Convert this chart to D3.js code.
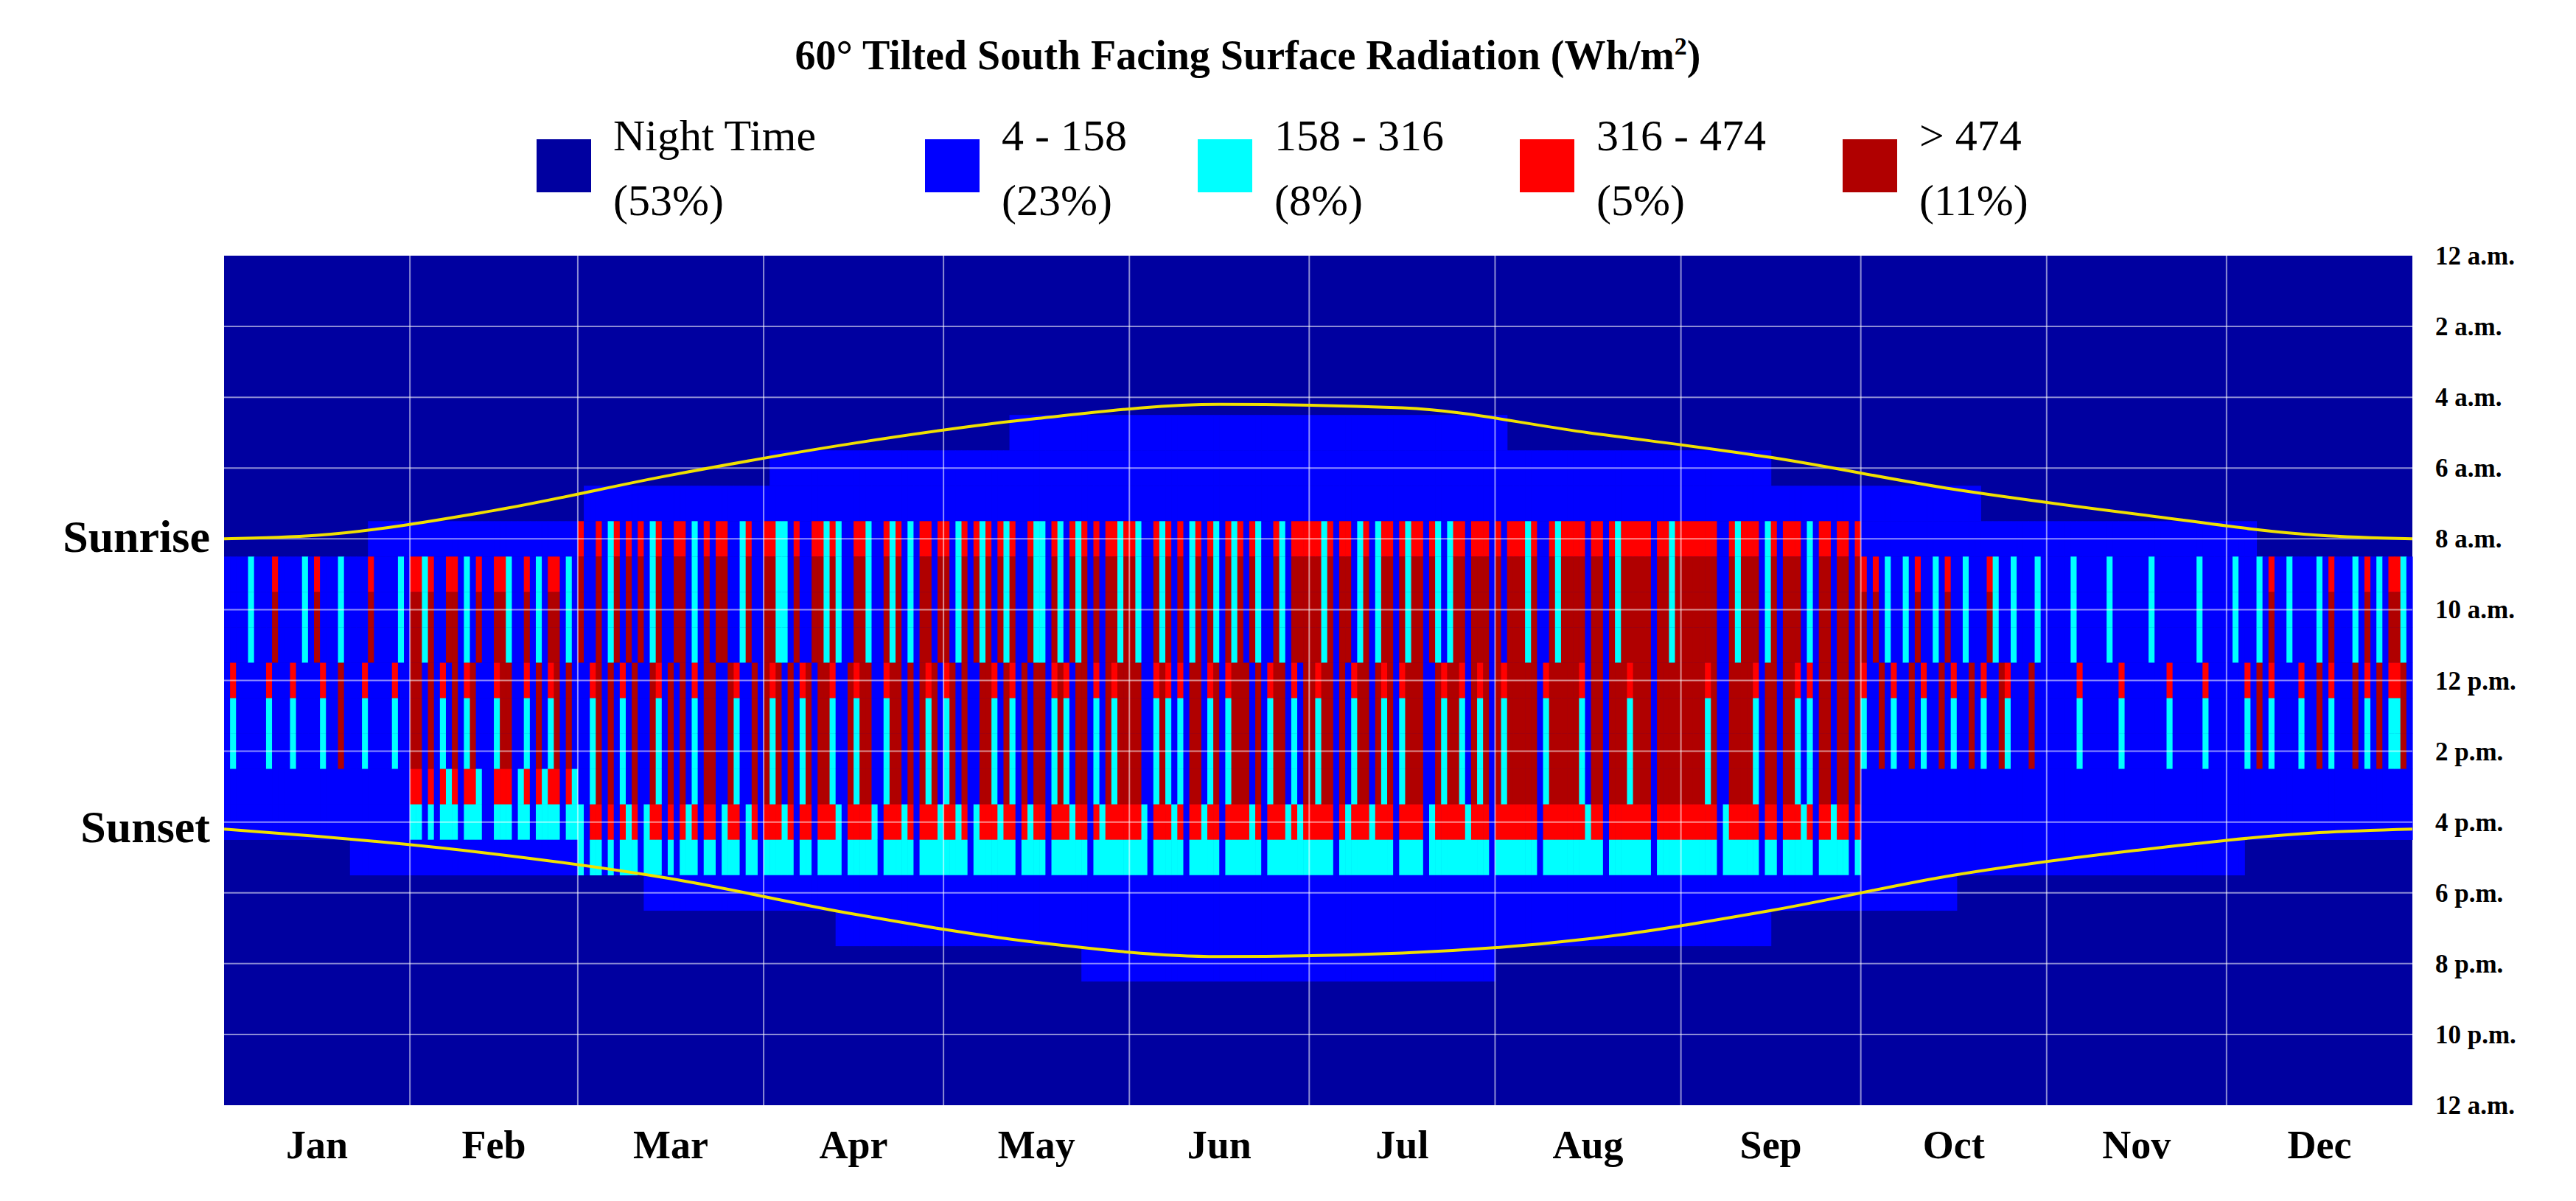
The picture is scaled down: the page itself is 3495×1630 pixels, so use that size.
<!DOCTYPE html>
<html>
<head>
<meta charset="UTF-8">
<script src="https://d3js.org/d3.v7.min.js"></script>
<style>
  body { margin: 0; background: #fff; }
  text { font-family: "Liberation Serif", "DejaVu Serif", serif; fill: #000; }
</style>
</head>
<body>
<svg width="3495" height="1630"></svg>
<script>
// categories
const months = ["Jan","Feb","Mar","Apr","May","Jun","Jul","Aug","Sep","Oct","Nov","Dec"];
const monthDays = [31,28,31,30,31,30,31,31,30,31,30,31];
const classNames = ["Night Time","4 - 158","158 - 316","316 - 474","> 474"];
const classShares = ["(53%)","(23%)","(8%)","(5%)","(11%)"];
const classColors = ["#0000a0","#0000ff","#00ffff","#ff0000","#b00000"];
const hourTicks = ["12 a.m.","2 a.m.","4 a.m.","6 a.m.","8 a.m.","10 a.m.","12 p.m.","2 p.m.","4 p.m.","6 p.m.","8 p.m.","10 p.m.","12 a.m."];

// sunrise / sunset (hours) at mid-month
const sunriseMid = [7.9, 7.2, 6.2, 5.3, 4.6, 4.2, 4.3, 5.0, 5.7, 6.6, 7.3, 7.9];
const sunsetMid  = [16.4, 16.9, 17.6, 18.6, 19.4, 19.8, 19.7, 19.3, 18.5, 17.5, 16.8, 16.3];
const sunriseEnds = [8.0, 8.0];
const sunsetEnds = [16.2, 16.2];

// daily sky state, morning and afternoon: 0 overcast .. 3 clear
const skyAm = [
  "0010200130010203001200103000120",
  "3323013302130033201302133021",
  "3013023031302301330213033102301",
  "332213013323201332013231203313",
  "3123032313230132203213230313323",
  "320132313023132032313201321333",
  "3323033123123303233032123313330",
  "3133323013233331330323333313323",
  "333333103233302313330213303313",
  "3130210213012030120103201201020",
  "010020100120010002010010020100",
  "0201020300201002030102030203320"
];
const skyPm = [
  "0200100210020010200301020010200",
  "3303021302310023301203123031",
  "1023030213013203031203301320130",
  "323130230332103233102331303231",
  "2313013321320313302321330213233",
  "331023212033123023331302331213",
  "3233031233132302333013233213230",
  "3233333023333321330333233303333",
  "333323013333203303321203313303",
  "2103120130210302103020132010310",
  "001002010010200100102001002010",
  "0102030200102003020103020302230"
];
// colour class for a core-hour cell by sky state
const coreClass = [1, 1, 2, 4];

const svg = d3.select("svg");
const plotLeft = 304, plotRight = 3273, plotTop = 347, plotBottom = 1500;

const x = d3.scaleLinear().domain([0, 365]).range([plotLeft, plotRight]);
const y = d3.scaleLinear().domain([0, 24]).range([plotTop, plotBottom]);

// month start days
const monthStart = [];
monthDays.reduce((acc, n) => { monthStart.push(acc); return acc + n; }, 0);

// sun curves
const sunPts = [{d: 0, r: sunriseEnds[0], s: sunsetEnds[0]}];
months.forEach((m, i) => sunPts.push({d: monthStart[i] + monthDays[i] / 2, r: sunriseMid[i], s: sunsetMid[i]}));
sunPts.push({d: 365, r: sunriseEnds[1], s: sunsetEnds[1]});
const riseAt = d3.scaleLinear().domain(sunPts.map(p => p.d)).range(sunPts.map(p => p.r));
const setAt = d3.scaleLinear().domain(sunPts.map(p => p.d)).range(sunPts.map(p => p.s));

// build cells
const cells = [];
skyAm.forEach((str, mi) => {
  const summer = mi >= 2 && mi <= 8;
  const warm = mi >= 1 && mi <= 8;
  const pmStr = skyPm[mi];
  str.split("").forEach((ch, di) => {
    const day = monthStart[mi] + di;
    const sAm = +ch, sPm = +pmStr[di];
    const a = Math.ceil(riseAt(day + 0.5) + 0.3);
    const b = Math.floor(setAt(day + 0.5) + 0.5);
    const cs = summer ? 8 : 9, ce = summer ? 15 : 14;
    for (let h = a; h <= b; h++) {
      const s = h <= 11 ? sAm : sPm;
      let c = 1;
      if (h >= cs && h <= ce) {
        c = coreClass[s];
        if (s === 3 && h === cs) c = 3;
        if (s === 2 && h === 12) c = 3;
      } else if (warm && h === ce + 1) {
        c = s >= 2 ? 3 : (s === 1 ? 2 : 1);
      } else if (warm && h === ce + 2) {
        c = s >= 1 ? 2 : 1;
      }
      cells.push({day, h, c});
    }
  });
});

const g = svg.append("g");
g.append("rect").attr("x", plotLeft).attr("y", plotTop).attr("width", plotRight - plotLeft).attr("height", plotBottom - plotTop)
  .attr("fill", classColors[0]);

g.selectAll(".cell").data(cells).enter().append("rect")
  .attr("x", d => x(d.day))
  .attr("y", d => y(d.h - 0.5))
  .attr("width", x(1) - x(0) + 0.6)
  .attr("height", y(1) - y(0) + 0.3)
  .attr("fill", d => classColors[d.c]);

// grid lines
g.selectAll(".hg").data(d3.range(2, 24, 2)).enter().append("line")
  .attr("x1", plotLeft).attr("x2", plotRight).attr("y1", d => y(d)).attr("y2", d => y(d))
  .attr("stroke", "#fff").attr("stroke-opacity", 0.55).attr("stroke-width", 2);
g.selectAll(".vg").data(monthStart.slice(1)).enter().append("line")
  .attr("y1", plotTop).attr("y2", plotBottom).attr("x1", d => x(d)).attr("x2", d => x(d))
  .attr("stroke", "#fff").attr("stroke-opacity", 0.55).attr("stroke-width", 2);

// sunrise / sunset curves
const curve = key => d3.line().curve(d3.curveMonotoneX).x(p => x(p.d)).y(p => y(p[key]))(sunPts);
g.append("path").attr("d", curve("r")).attr("fill", "none").attr("stroke", "#f0e000").attr("stroke-width", 4);
g.append("path").attr("d", curve("s")).attr("fill", "none").attr("stroke", "#f0e000").attr("stroke-width", 4);

// right hour labels
svg.selectAll(".yt").data(hourTicks).enter().append("text")
  .attr("x", 3304).attr("y", (d, i) => y(i * 2) + 12)
  .attr("font-size", 35).attr("font-weight", "bold").text(d => d);

// month labels
svg.selectAll(".mt").data(months).enter().append("text")
  .attr("x", (d, i) => x(monthStart[i] + monthDays[i] / 2)).attr("y", 1572)
  .attr("text-anchor", "middle").attr("font-size", 54).attr("font-weight", "bold").text(d => d);

// sunrise / sunset labels
svg.append("text").attr("x", 285).attr("y", y(8) + 18).attr("text-anchor", "end")
  .attr("font-size", 62).attr("font-weight", "bold").text("Sunrise");
svg.append("text").attr("x", 285).attr("y", y(16.2) + 18).attr("text-anchor", "end")
  .attr("font-size", 62).attr("font-weight", "bold").text("Sunset");

// title
const title = svg.append("text").attr("x", 1693).attr("y", 94).attr("text-anchor", "middle")
  .attr("font-size", 56).attr("font-weight", "bold");
title.append("tspan").text("60° Tilted South Facing Surface Radiation (Wh/m");
title.append("tspan").attr("font-size", 34).attr("dy", -20).text("2");
title.append("tspan").attr("dy", 20).text(")");

// legend
const legendX = [728, 1255, 1625, 2062, 2500];
const lg = svg.selectAll(".lg").data(classNames).enter().append("g")
  .attr("transform", (d, i) => `translate(${legendX[i]},0)`);
lg.append("rect").attr("x", 0).attr("y", 189).attr("width", 74).attr("height", 72)
  .attr("fill", (d, i) => classColors[i]);
lg.append("text").attr("x", 104).attr("y", 204).attr("font-size", 60).text(d => d);
lg.append("text").attr("x", 104).attr("y", 292).attr("font-size", 60).text((d, i) => classShares[i]);
</script>
</body>
</html>
